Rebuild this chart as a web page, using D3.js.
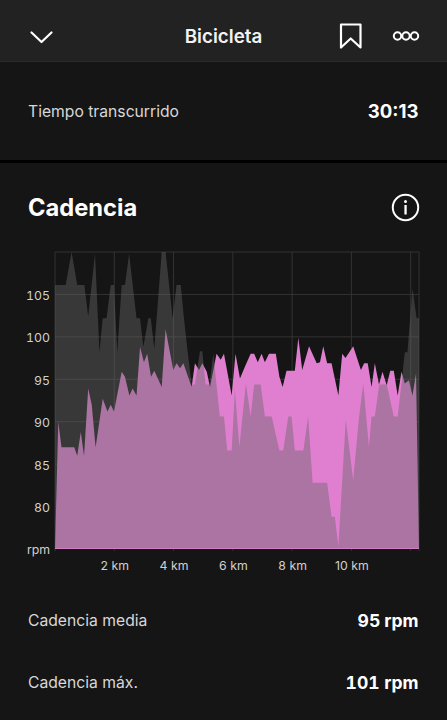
<!DOCTYPE html>
<html><head><meta charset="utf-8">
<script src="https://cdn.jsdelivr.net/npm/d3@7"></script>
<style>
html,body{margin:0;padding:0;background:#151515;overflow:hidden}
svg{display:block}
text{font-family:Inter,"Noto Sans",sans-serif}
.tn{font-feature-settings:"tnum"}
</style></head><body>
<svg id="c" width="447" height="720"></svg>
<script>
const currentKm=[0,.11,.22,.65,.75,.87,.98,1.12,1.24,1.37,1.61,1.77,1.88,1.99,2.25,2.36,2.51,2.62,2.75,2.87,3.0,3.11,3.24,3.35,3.60,3.73,3.99,4.10,4.22,4.33,4.61,4.72,4.86,4.97,5.12,5.23,5.45,5.59,5.70,5.96,6.09,6.24,6.41,6.60,6.72,6.84,6.97,7.08,7.22,7.45,7.57,7.68,7.81,8.09,8.21,8.34,8.57,8.83,8.94,9.05,9.18,9.33,9.56,9.69,9.80,10.06,10.32,10.43,10.55,10.68,10.79,10.93,11.05,11.19,11.31,11.43,11.56,11.69,11.80,11.94,12.06,12.18,12.28];
const currentRpm=[75,90,87,87,86,88.8,86,93.9,92,87,92.7,91.2,92,91.2,95.9,95.3,93.1,93.9,93.1,98.8,97,98,95.3,96,94.1,100.9,96.1,96.9,96.3,96.9,94.1,96.9,96.1,96.9,95.9,94.1,98,97.3,98,93.1,98,95.1,96.5,98,98,97,98,97,98,98,95.3,94.1,96,96,99.9,96.1,98.9,96.9,97,98.9,96.9,96.9,93.1,98,97.5,98.9,96.1,96.9,96.9,94.1,96.9,94.4,95.9,94.3,96,96,93.1,95.9,94.5,94.9,93.1,95.7,75];
const overlayKm=[0,.36,.56,.75,.99,1.12,1.35,1.50,1.61,1.74,1.88,1.99,2.10,2.25,2.36,2.50,2.75,2.87,2.98,3.15,3.23,3.35,3.60,3.73,3.97,4.10,4.24,4.35,4.47,4.61,4.72,4.89,4.97,5.08,5.21,5.34,5.56,5.70,5.81,5.96,6.07,6.22,6.44,6.60,6.72,6.94,7.08,7.31,7.57,7.70,7.87,7.98,8.09,8.38,8.54,8.69,9.18,9.33,9.44,9.56,9.81,10.06,10.26,10.40,10.59,10.68,10.79,10.94,11.19,11.43,11.56,11.69,11.80,11.89,12.06,12.20,12.28];
const overlayRpm=[106.1,106.1,110,106.1,106.1,102.4,109.8,98.2,102.2,102.2,106.1,106.1,98.2,106.1,106.1,109.8,102.2,102.2,98.8,102.2,102.2,98.6,110,110,102.2,106.1,106.1,102.2,98.4,94.4,94.4,98.3,98.3,94.4,94.4,98,90.6,90.6,86.6,86.6,93.7,87,94.5,90.6,94.4,94.4,90.6,90.6,86.6,86.6,90.6,90.6,86.6,86.6,90.6,82.8,82.8,78.8,78.8,75.3,90.2,83.1,90.6,94.5,87,90.6,90.6,94.4,94.4,90.6,90.6,94.5,98.2,98.2,105.7,102.2,102.2];
const yTicks=[75,80,85,90,95,100,105];
const xTicks=[2,4,6,8,10,12];
const xLabels=[2,4,6,8,10];

const svg=d3.select("#c");
const x=d3.scaleLinear().domain([0,12.28]).range([55,419]);
const y=d3.scaleLinear().domain([75,110]).range([549,252]);

// page chrome
svg.append("rect").attr("width",447).attr("height",720).attr("fill","#151515");
svg.append("rect").attr("width",447).attr("height",61).attr("fill","#222222");
svg.append("rect").attr("y",61).attr("width",447).attr("height",1).attr("fill","#2b2b2b");
svg.append("rect").attr("y",160).attr("width",447).attr("height",3).attr("fill","#000");

const T=(s,px,py,o)=>svg.append("text").attr("x",px).attr("y",py).text(s).attr("class",o.cl||null)
 .attr("font-size",o.size).attr("font-weight",o.w||400).attr("fill",o.c||"#fff").attr("text-anchor",o.a||"start");
T("Bicicleta",223.5,43,{size:18.8,w:600,a:"middle",c:"#f2f2f2"});
T("Tiempo transcurrido",28,116.5,{size:15.7,c:"#d8d8d8"});
T("30:13",418.5,117.5,{size:18.6,w:700,a:"end"});
T("Cadencia",28,216,{size:23.7,w:700});
T("Cadencia media",28,626,{size:15.7,c:"#d8d8d8"});
T("95 rpm",418.5,627,{size:17.5,w:700,a:"end"});
T("Cadencia máx.",28,688,{size:15.7,c:"#d8d8d8"});
T("101 rpm",418.5,688.5,{size:17.5,w:700,a:"end",cl:"tn"});

// icons
const ic={fill:"none",stroke:"#fff","stroke-width":2.2,"stroke-linecap":"round","stroke-linejoin":"round"};
const P=(d,o)=>{const p=svg.append("path").attr("d",d);Object.entries(o).forEach(([k,v])=>p.attr(k,v));};
P("M31.5 32.5L41.5 42L51.5 32.5",ic);
P("M341 24.5H360.5V47.5L350.7 38.5L341 47.5Z",ic);
[397.5,406,414.5].forEach(cx=>svg.append("circle").attr("cx",cx).attr("cy",36).attr("r",3.7).attr("fill","none").attr("stroke","#fff").attr("stroke-width",2));
svg.append("circle").attr("cx",405.5).attr("cy",207.5).attr("r",12.7).attr("fill","none").attr("stroke","#fff").attr("stroke-width",2);
svg.append("rect").attr("x",404.4).attr("y",205).attr("width",2.3).attr("height",9.5).attr("fill","#fff");
svg.append("circle").attr("cx",405.5).attr("cy",201.5).attr("r",1.5).attr("fill","#fff");

// grid
const gridC="#333333";
const g=svg.append("g").attr("stroke",gridC).attr("stroke-width",1);
g.selectAll(".h").data(yTicks.slice(1).concat([110])).join("line")
 .attr("x1",x(0)).attr("x2",x(12.28)).attr("y1",d=>y(d)).attr("y2",d=>y(d));
g.selectAll(".v").data([0,...xTicks,12.28]).join("line")
 .attr("x1",d=>x(d)).attr("x2",d=>x(d)).attr("y1",y(110)).attr("y2",y(75)+2);

// areas
const area=d3.area().x(d=>x(d[0])).y0(y(75)).y1(d=>y(d[1]));
svg.append("path").datum(d3.zip(currentKm,currentRpm)).attr("d",area).attr("fill","#e07fd0");
svg.append("path").datum(d3.zip(overlayKm,overlayRpm))
 .attr("d",d3.area().x(d=>x(d[0])).y0(y(75)-.7).y1(d=>y(d[1]))).attr("fill","#666666").attr("fill-opacity",.44);

// axes
const ay=svg.append("g").attr("transform","translate(50,1)")
 .call(d3.axisLeft(y).tickValues(yTicks).tickSize(0).tickPadding(0).tickFormat(d=>d===75?"rpm":d));
ay.select(".domain").remove();
ay.selectAll("text").attr("class","tn");
const ax=svg.append("g").attr("transform","translate(0,561.5)")
 .call(d3.axisBottom(x).tickValues(xLabels).tickSize(0).tickPadding(0).tickFormat(d=>d+" km"));
ax.select(".domain").remove();
svg.selectAll(".tick text").attr("fill","#d0d0d0").attr("font-size",12.3).attr("font-family","Inter,'Noto Sans',sans-serif");
</script>
</body></html>
